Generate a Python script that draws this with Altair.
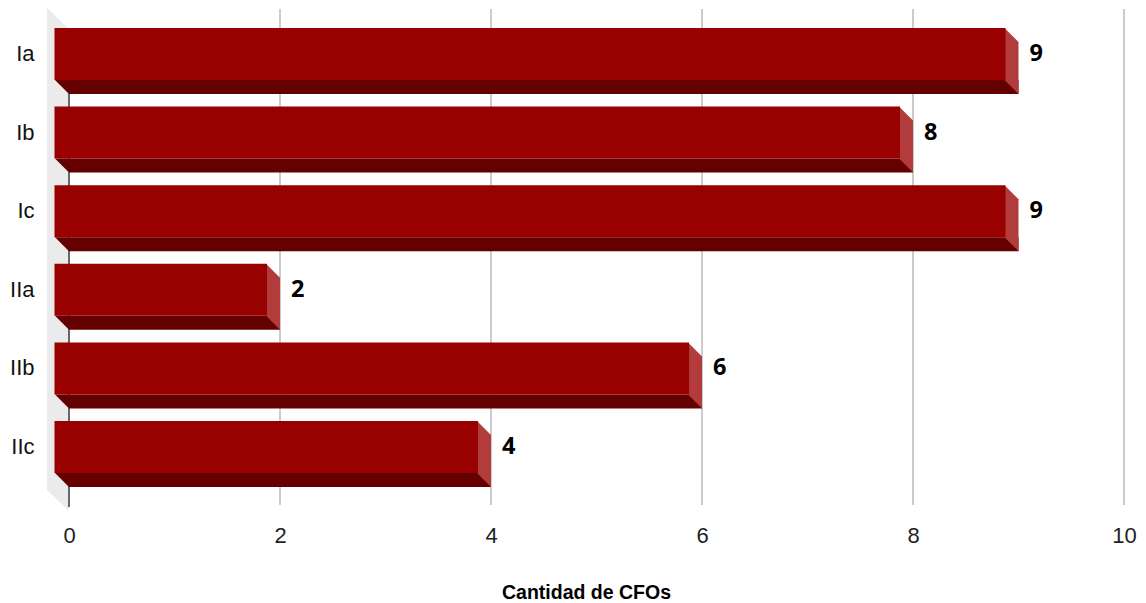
import altair as alt
import pandas as pd

categories = ["Ia", "Ib", "Ic", "IIa", "IIb", "IIc"]
values = [9, 8, 9, 2, 6, 4]
tick_values = [0, 2, 4, 6, 8, 10]
grid_values = [2, 4, 6, 8, 10]
x_title = "Cantidad de CFOs"

FRONT = "#990000"
BOTTOM = "#640000"
SIDE = "#b23c3c"
WALL = "#ebebeb"
FONT = "Liberation Sans"

bars = pd.DataFrame({"cat": categories, "value": values, "zero": [0] * len(values)})
grid = pd.DataFrame({"g": grid_values})
origin = pd.DataFrame({"zero": [0]})

W, H = 1055, 500
xscale = alt.Scale(domain=[0, 10], nice=False, zero=True)
yscale = alt.Scale(domain=categories, paddingInner=0, paddingOuter=0.1807, align=0.236)

x_axis = alt.Axis(values=tick_values, format="d", grid=False, ticks=False, tickSize=0, domain=False,
                  labelFlush=False, labelOverlap=False,
                  labelFont=FONT, labelFontSize=22, labelColor="#222222", labelPadding=17,
                  title=x_title, titleFont=FONT, titleFontSize=19.5, titleFontWeight="bold",
                  titleColor="#000000", titleX=517, titleY=84, titleBaseline="middle",
                  titleAlign="center")
y_axis = alt.Axis(ticks=False, tickSize=0, domain=False, grid=False, title=None,
                  labelFont=FONT, labelFontSize=22, labelColor="#111111", labelPadding=35)

wall = alt.Chart(origin).mark_point(
    shape="M-22,0 L0,21 L0,503 L-22,482 Z", size=4, filled=True, fill=WALL,
    opacity=1, strokeWidth=0
).encode(x=alt.X("zero:Q", scale=xscale, axis=x_axis), y=alt.value(0))

grid_rules = alt.Chart(grid).mark_rule(color="#cccccc", strokeWidth=2).encode(
    x=alt.X("g:Q", scale=xscale), y=alt.value(1), y2=alt.value(H - 3))

axis_rule = alt.Chart(origin).mark_rule(color="#444444", strokeWidth=1.6).encode(
    x=alt.X("zero:Q", scale=xscale), y=alt.value(21), y2=alt.value(499))

ybar = alt.Y("cat:N", scale=yscale, sort=categories, axis=y_axis)

bottom = alt.Chart(bars).mark_bar(size=14, yOffset=33, color=BOTTOM).encode(
    x=alt.X("zero:Q", scale=xscale), x2="value:Q", y=ybar)

bottom_tri = alt.Chart(bars).mark_point(
    shape="M-14,26 L0,26 L0,40 Z", size=4, filled=True, fill=BOTTOM, opacity=1, strokeWidth=0
).encode(x=alt.X("zero:Q", scale=xscale), y=ybar)

side = alt.Chart(bars).mark_point(
    shape="M-14,-26 L0,-12 L0,40 L-14,26 Z", size=4, filled=True, fill=SIDE, opacity=1,
    strokeWidth=0
).encode(x=alt.X("value:Q", scale=xscale), y=ybar)

front = alt.Chart(bars).mark_bar(size=52, xOffset=-14.5, x2Offset=-13, color=FRONT).encode(
    x=alt.X("zero:Q", scale=xscale), x2="value:Q", y=ybar)

labels = alt.Chart(bars).mark_text(
    align="left", baseline="middle", dx=11, font="Open Sans", fontSize=23.5,
    fontWeight="bold", color="#000000"
).encode(x=alt.X("value:Q", scale=xscale), y=ybar, text="value:Q")

chart = alt.layer(wall, grid_rules, axis_rule, bottom, bottom_tri, side, front, labels).properties(
    width=W, height=H,
    autosize=alt.AutoSizeParams(type="none"),
    padding={"left": 69, "top": 8, "right": 22, "bottom": 95},
    background="white",
).configure_view(stroke=None)

chart.save("out.html", embed_options={"renderer": "svg", "actions": False})
